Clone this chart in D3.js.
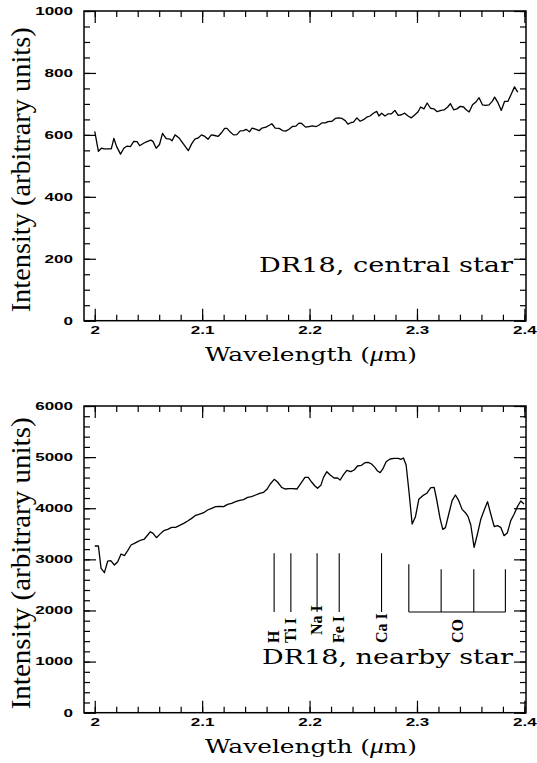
<!DOCTYPE html>
<html>
<head>
<meta charset="utf-8">
<script src="https://cdn.jsdelivr.net/npm/d3@7"></script>
<style>
  body { margin: 0; background: #fff; }
</style>
</head>
<body>
<script>
// spectrum of the central star (top panel)
var topWave = [2.000,2.0034,2.0062,2.0086,2.0154,2.0178,2.0203,2.0240,2.0271,2.0302,2.0332,2.0363,2.0394,2.0418,2.0455,2.0486,2.0523,2.0542,2.0572,2.0603,
  2.0631,2.0665,2.0702,2.0720,2.0748,2.0788,2.0825,2.0871,2.0902,2.0932,2.0963,2.0994,2.1025,2.1055,2.1086,2.1117,2.1148,2.1178,2.1209,2.1231,
  2.1262,2.1292,2.1323,2.1354,2.1385,2.1409,2.1440,2.1465,2.1502,2.1532,2.1557,2.1594,2.1625,2.1649,2.1680,2.1717,2.1748,2.1778,2.1809,2.1840,
  2.1871,2.1902,2.1926,2.1963,2.1994,2.2025,2.2062,2.2086,2.2117,2.2148,2.2172,2.2209,2.2240,2.2271,2.2302,2.2332,2.2357,2.2388,2.2409,2.2440,
  2.2471,2.2502,2.2532,2.2563,2.2594,2.2625,2.2646,2.2671,2.2702,2.2732,2.2763,2.2794,2.2825,2.2855,2.2886,2.2917,2.2948,2.2978,2.3009,2.3034,
  2.3065,2.3095,2.3126,2.3157,2.3188,2.3225,2.3255,2.3286,2.3311,2.3342,2.3372,2.3403,2.3434,2.3458,2.3486,2.3517,2.3548,2.3578,2.3609,2.3640,
  2.3671,2.3702,2.3723,2.3754,2.3785,2.3815,2.3846,2.3877,2.3908,2.3938];
var topFlux = [611,547,557,555,555,589,563,538,557,564,562,579,578,565,573,578,583,579,557,569,
  605,588,586,581,600,589,571,549,571,586,590,600,595,586,600,598,595,606,621,621,
  609,600,601,613,614,618,610,622,618,614,622,625,631,636,622,621,614,612,618,627,
  628,638,637,625,627,629,627,631,639,639,643,644,653,655,653,646,635,640,641,655,
  644,649,657,661,670,676,661,670,661,668,668,679,663,665,670,661,655,664,674,690,
  684,703,686,684,675,679,681,690,701,681,684,692,690,681,674,697,706,720,697,695,
  697,709,722,704,679,708,708,731,755,738];

// spectrum of the nearby star (bottom panel)
var botWave = [2.000,2.0034,2.0059,2.0090,2.0121,2.0149,2.0183,2.0214,2.0245,2.0276,2.0307,2.0338,2.0369,2.0400,2.0431,2.0462,2.0493,2.0518,2.0543,2.0574,
  2.0605,2.0642,2.0679,2.0716,2.0753,2.0791,2.0828,2.0865,2.0902,2.0940,2.0977,2.1014,2.1051,2.1088,2.1126,2.1163,2.1200,2.1237,2.1274,2.1312,
  2.1349,2.1386,2.1423,2.1460,2.1498,2.1535,2.1572,2.1603,2.1634,2.1671,2.1702,2.1740,2.1771,2.1808,2.1845,2.1882,2.1919,2.1957,2.1988,2.2019,
  2.2050,2.2074,2.2105,2.2130,2.2161,2.2192,2.2229,2.2260,2.2285,2.2316,2.2347,2.2384,2.2415,2.2446,2.2484,2.2515,2.2546,2.2577,2.2608,2.2633,
  2.2657,2.2682,2.2713,2.2750,2.2788,2.2825,2.2850,2.2874,2.2899,2.2924,2.2955,2.2986,2.3017,2.3054,2.3091,2.3129,2.3160,2.3184,2.3215,2.3240,
  2.3265,2.3296,2.3327,2.3358,2.3389,2.3420,2.3451,2.3476,2.3501,2.3532,2.3563,2.3594,2.3626,2.3657,2.3687,2.3719,2.3749,2.3780,2.3811,2.3842,
  2.3873,2.3904,2.3935,2.3966,2.3997];
var botFlux = [3261,3261,2824,2739,2967,2974,2889,2954,3104,3072,3170,3281,3313,3346,3378,3398,3476,3541,3509,3424,
  3489,3561,3587,3626,3626,3665,3704,3750,3802,3861,3887,3913,3965,3998,4031,4037,4031,4076,4096,4128,
  4155,4168,4213,4226,4259,4292,4311,4370,4474,4565,4513,4409,4376,4383,4383,4376,4487,4604,4604,4513,
  4435,4389,4448,4604,4715,4650,4591,4591,4552,4657,4742,4715,4748,4826,4839,4892,4898,4865,4800,4728,
  4696,4768,4911,4963,4976,4976,4957,4983,4846,4357,3691,3835,4174,4246,4292,4402,4409,4161,3802,3587,
  3620,3887,4148,4259,4148,3978,3913,3835,3672,3235,3496,3783,3965,4128,3887,3639,3659,3626,3463,3522,
  3757,3881,4031,4141,4083];

// line identifications
var lineNames = ['H', 'Ti I', 'Na I', 'Fe I', 'Ca I'];
var lineWaves = [2.167, 2.1826, 2.207, 2.2276, 2.267];
var lineLow = 1970, lineHigh = 3120;
var coWaves = [2.2924, 2.3225, 2.3529, 2.3823];
var coTops = [2904, 2806, 2806, 2806];

// ticks
var xMajor = [2, 2.1, 2.2, 2.3, 2.4];
var topYMajor = [0, 200, 400, 600, 800, 1000];
var botYMajor = [0, 1000, 2000, 3000, 4000, 5000, 6000];

var typeFont = '"DejaVu Serif", serif';

document.addEventListener('DOMContentLoaded', function(e) {
  var svg = d3.select('body').append('svg')
              .attr('width', 537)
              .attr('height', 763);

  var xMinor = d3.range(0, 21).map(function(i) { return 2 + i * 0.02; });

  function stretch(sel, k) {
    sel.each(function() {
      var w = this.getComputedTextLength();
      d3.select(this).attr('textLength', w * k).attr('lengthAdjust', 'spacingAndGlyphs');
    });
  }

  function panel(cfg) {
    var x = d3.scaleLinear().domain([1.99, 2.4015]).range([84, 526]);
    var y = d3.scaleLinear().domain([0, cfg.yMax]).range([cfg.bottom, cfg.top]);
    var g = svg.append('g');

    // inward ticks on all four sides
    function axis(gen, tx, ty, vals, size, labels, pad) {
      var a = g.append('g')
               .attr('transform', 'translate(' + tx + ',' + ty + ')')
               .call(gen.tickValues(vals).tickSize(-size).tickPadding(pad || 0)
                        .tickFormat(labels ? function(d) { return String(d); } : ''));
      a.select('.domain').remove();
      a.selectAll('.tick line').attr('stroke', '#000').attr('stroke-width', 1.2);
      a.attr('font-family', '"Liberation Sans", Arial, sans-serif')
       .attr('font-size', 10.5).attr('font-weight', 'bold');
      a.selectAll('.tick text').attr('fill', '#000');
      if (labels) stretch(a.selectAll('.tick text'), 1.62);
      return a;
    }
    axis(d3.axisBottom(x), 0, cfg.bottom, xMinor, 6, false);
    axis(d3.axisBottom(x), 0, cfg.bottom, xMajor, 12, true, cfg.xPad);
    axis(d3.axisTop(x), 0, cfg.top, xMinor, 6, false);
    axis(d3.axisTop(x), 0, cfg.top, xMajor, 12, false);
    axis(d3.axisLeft(y), 84, 0, cfg.yMinor, 6, false);
    axis(d3.axisLeft(y), 84, 0, cfg.yMajor, 12, true, 11);
    axis(d3.axisRight(y), 526, 0, cfg.yMinor, 6, false);
    axis(d3.axisRight(y), 526, 0, cfg.yMajor, 12, false);

    // frame
    g.append('rect')
     .attr('x', 84).attr('y', cfg.top)
     .attr('width', 442).attr('height', cfg.bottom - cfg.top)
     .attr('fill', 'none').attr('stroke', '#000').attr('stroke-width', 1.5);

    // spectrum
    var line = d3.line()
                 .x(function(d) { return x(d[0]); })
                 .y(function(d) { return y(d[1]); });
    g.append('path')
     .datum(d3.zip(cfg.wave, cfg.flux))
     .attr('d', line)
     .attr('fill', 'none')
     .attr('stroke', '#000')
     .attr('stroke-width', 1.3)
     .attr('stroke-linejoin', 'round');

    // y title
    var yc = (cfg.top + cfg.bottom) / 2 + 4;
    g.append('text')
     .attr('transform', 'translate(30,' + yc + ') rotate(-90)')
     .attr('text-anchor', 'middle')
     .attr('font-family', '"Liberation Serif", "Times New Roman", serif')
     .attr('font-size', 28)
     .attr('textLength', cfg.titleLen)
     .attr('lengthAdjust', 'spacingAndGlyphs')
     .text('Intensity (arbitrary units)');

    // x title
    var xt = g.append('text')
              .attr('x', 311).attr('y', cfg.bottom + 40)
              .attr('text-anchor', 'middle')
              .attr('font-family', typeFont)
              .attr('font-size', 19)
              .attr('textLength', 212)
              .attr('lengthAdjust', 'spacingAndGlyphs');
    xt.append('tspan').text('Wavelength (');
    xt.append('tspan')
      .attr('font-family', '"Liberation Serif", serif')
      .attr('font-style', 'italic')
      .attr('font-size', 21)
      .text('\u03bc');
    xt.append('tspan').text('m)');

    // panel label
    g.append('text')
     .attr('x', 513).attr('y', cfg.labelY)
     .attr('text-anchor', 'end')
     .attr('font-family', typeFont)
     .attr('font-size', 21)
     .attr('textLength', cfg.labelLen)
     .attr('lengthAdjust', 'spacingAndGlyphs')
     .text(cfg.label);

    return { g: g, x: x, y: y };
  }

  panel({
    top: 11, bottom: 320.7, yMax: 1000,
    yMajor: topYMajor, yMinor: d3.range(0, 1001, 50),
    wave: topWave, flux: topFlux, xPad: 6,
    titleLen: 285, label: 'DR18, central star', labelY: 271.7, labelLen: 254
  });

  var p2 = panel({
    top: 406, bottom: 712.7, yMax: 6000,
    yMajor: botYMajor, yMinor: d3.range(0, 6001, 200),
    wave: botWave, flux: botFlux, xPad: 5.5,
    titleLen: 292, label: 'DR18, nearby star', labelY: 663.5, labelLen: 251
  });

  var x = p2.x, y = p2.y, g = p2.g;
  var ids = d3.zip(lineNames, lineWaves);

  // atomic line markers
  g.selectAll('line.atom')
   .data(ids)
   .enter().append('line')
   .attr('x1', function(d) { return x(d[1]); })
   .attr('x2', function(d) { return x(d[1]); })
   .attr('y1', y(lineLow))
   .attr('y2', y(lineHigh))
   .attr('stroke', '#000').attr('stroke-width', 1.1);

  g.selectAll('text.atom')
   .data(ids)
   .enter().append('text')
   .attr('transform', function(d) {
     var off = d[0] === 'Na I' ? 23 : 31;
     return 'translate(' + x(d[1]) + ',' + (y(lineLow) + off) + ') rotate(-90)';
   })
   .attr('dy', '0.33em')
   .attr('font-family', '"Liberation Serif", "Times New Roman", serif')
   .attr('font-weight', 'bold')
   .attr('font-size', 16)
   .text(function(d) { return d[0]; });

  // CO bandheads
  g.selectAll('line.co')
   .data(d3.zip(coWaves, coTops))
   .enter().append('line')
   .attr('x1', function(d) { return x(d[0]); })
   .attr('x2', function(d) { return x(d[0]); })
   .attr('y1', y(lineLow))
   .attr('y2', function(d) { return y(d[1]); })
   .attr('stroke', '#000').attr('stroke-width', 1.1);

  g.append('line')
   .attr('x1', x(coWaves[0])).attr('x2', x(coWaves[coWaves.length - 1]))
   .attr('y1', y(lineLow)).attr('y2', y(lineLow))
   .attr('stroke', '#000').attr('stroke-width', 1.1);

  g.append('text')
   .attr('transform', 'translate(' + x(d3.mean(coWaves)) + ',' + (y(lineLow) + 31) + ') rotate(-90)')
   .attr('dy', '0.33em')
   .attr('font-family', '"Liberation Serif", "Times New Roman", serif')
   .attr('font-weight', 'bold')
   .attr('font-size', 16)
   .text('CO');
});
</script>
</body>
</html>
